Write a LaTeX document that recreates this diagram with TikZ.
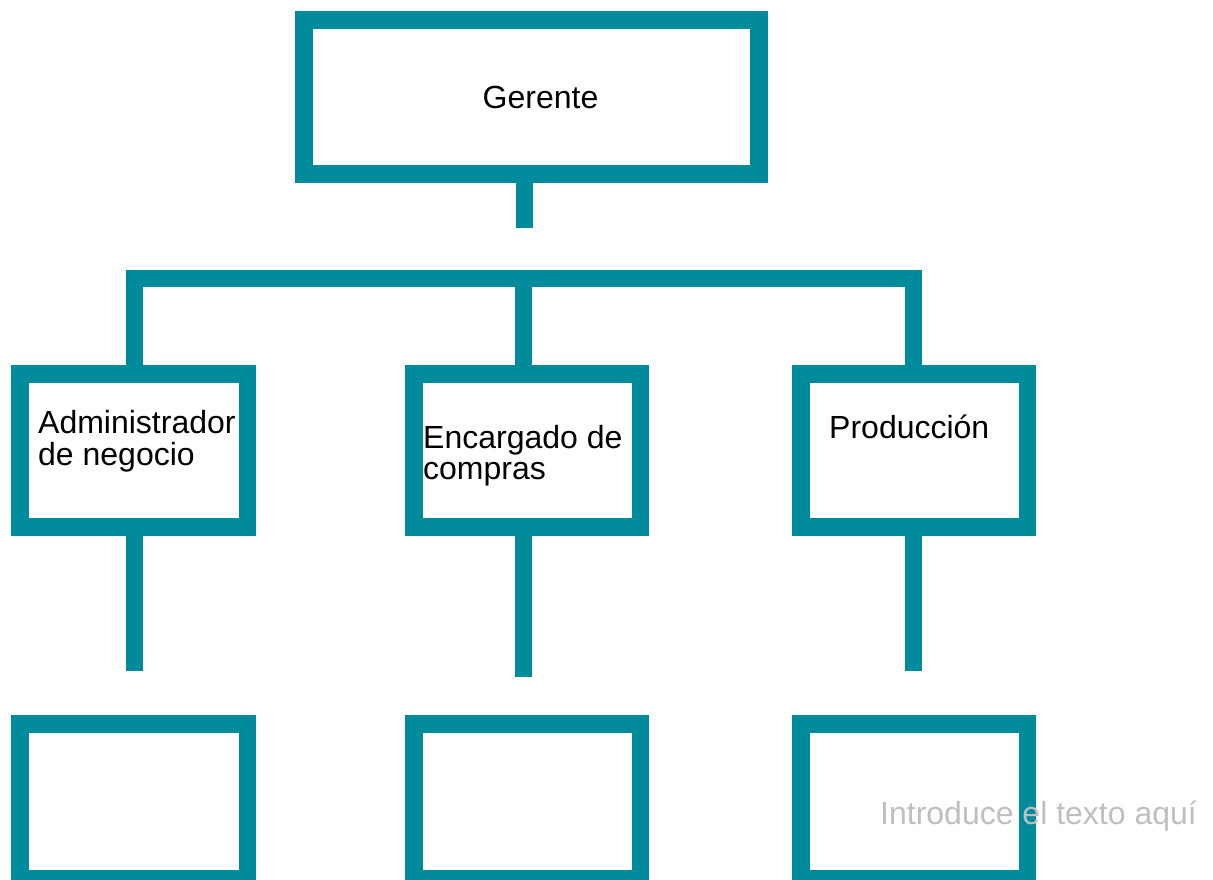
\documentclass[tikz,border=0pt]{standalone}
\usepackage{fontspec}
\setmainfont{Liberation Sans}
\definecolor{teal1}{RGB}{0,139,156}
\definecolor{hint}{RGB}{191,191,191}
\begin{document}
\begin{tikzpicture}[x=1pt,y=-1pt,
  box/.style={draw=teal1,line width=17.5pt,rectangle,inner sep=0pt,outer sep=0pt,fill=white},
  conn/.style={draw=teal1,line width=17pt,line cap=butt,line join=miter},
  lbl/.style={font=\fontsize{32}{32}\selectfont,text=black,inner sep=0pt,anchor=base west},
  hintlbl/.style={font=\fontsize{32}{32}\selectfont,text=hint,inner sep=0pt,anchor=base west}]
\useasboundingbox (0,0) rectangle (1213,879);
\clip (0,0) rectangle (1213,879);
% boxes
\node[box,minimum width=455pt,minimum height=154pt] (ger) at (531.5,97) {};
\node[box,minimum width=227.5pt,minimum height=153pt] (adm) at (133.75,450.5) {};
\node[box,minimum width=226.5pt,minimum height=153pt] (enc) at (527,450.5) {};
\node[box,minimum width=226.5pt,minimum height=153pt] (prod) at (914,450.5) {};
\node[box,minimum width=227.5pt,minimum height=154.5pt] (b1) at (133.75,801) {};
\node[box,minimum width=226.5pt,minimum height=154.5pt] (b2) at (527,801) {};
\node[box,minimum width=226.5pt,minimum height=154.5pt] (b3) at (914,801) {};
% coordinates
\coordinate (gstem) at (524,228);
\coordinate (bar) at (523.5,278.5);
\coordinate (aL) at (134,278.5);
\coordinate (aR) at (913,278.5);
\coordinate (e1) at (134,671);
\coordinate (e2) at (523.5,677);
\coordinate (e3) at (913,671);
% connectors
\draw[conn] (ger.south -| gstem) -- (gstem);
\draw[conn] (adm.north -| aL) -- (aL) -- (aR) -- (prod.north -| aR);
\draw[conn] (bar) -- (enc.north -| bar);
\draw[conn] (adm.south -| e1) -- (e1);
\draw[conn] (enc.south -| e2) -- (e2);
\draw[conn] (prod.south -| e3) -- (e3);
% texts
\node[font=\fontsize{32}{32}\selectfont,inner sep=0pt,anchor=base] (tger) at (540.5,108) {Gerente};
\node[lbl] (tadm1) at (38,433.5) {Administrador};
\node[lbl] (tadm2) at (38,465.5) {de negocio};
\node[lbl] (tenc1) at (423,448.5) {Encargado de};
\node[lbl] (tenc2) at (423,479.5) {compras};
\node[lbl] (tprod) at (829,438.5) {Producción};
\node[hintlbl] (thint) at (880,824) {Introduce el texto aquí};
\end{tikzpicture}
\end{document}
